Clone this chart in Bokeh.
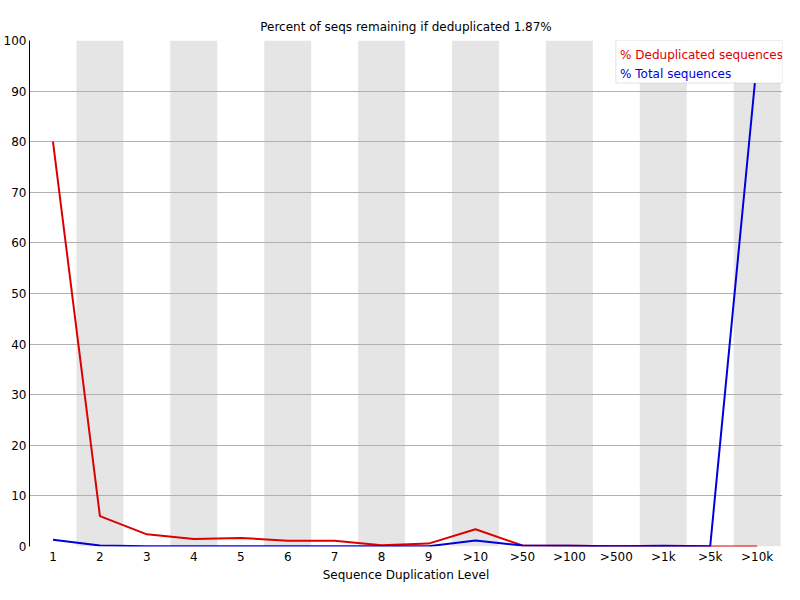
from bokeh.plotting import figure
from bokeh.models import BoxAnnotation, Label, FixedTicker, Range1d
from bokeh.embed import file_html
from bokeh.resources import INLINE

levels = ["1", "2", "3", "4", "5", "6", "7", "8", "9", ">10", ">50", ">100", ">500", ">1k", ">5k", ">10k"]
dedup_pct = [80.0, 6.0, 2.4, 1.5, 1.7, 1.15, 1.15, 0.25, 0.57, 3.4, 0.2, 0.15, 0.05, 0.1, 0.02, 0.01]
total_pct = [1.35, 0.2, 0.05, 0.05, 0.05, 0.05, 0.05, 0.05, 0.05, 1.2, 0.2, 0.15, 0.05, 0.15, 0.05, 96.3]
title_text = "Percent of seqs remaining if deduplicated 1.87%"

FONT = "DejaVu Sans"
xs = list(range(1, len(levels) + 1))

p = figure(width=784, height=584, output_backend="svg", toolbar_location=None,
           x_range=Range1d(0.5, 16.54), y_range=Range1d(0, 100),
           min_border_left=28, min_border_right=2, min_border_top=40, min_border_bottom=30)
p.title.text = title_text
p.title.align = "center"
p.title.text_font = FONT
p.title.text_font_size = "12px"
p.title.text_font_style = "normal"
p.title.text_color = "black"
p.title.standoff = 14
p.outline_line_color = None
p.background_fill_color = "white"

# alternating bands
band_x = [x for x in xs if x % 2 == 0]
p.vbar(x=band_x, width=1.0, bottom=0, top=100, fill_color="#e5e5e5", line_color=None, level="underlay")

p.xgrid.grid_line_color = None
p.ygrid.grid_line_color = "#b0b0b0"
p.ygrid.grid_line_width = 1
p.ygrid.ticker = FixedTicker(ticks=list(range(0, 101, 10)))
p.ygrid.level = "underlay"

p.line(xs, dedup_pct, line_color="#dc0000", line_width=2)
p.line(xs, total_pct, line_color="#0000dc", line_width=2)

p.xaxis.ticker = FixedTicker(ticks=xs)
p.xaxis.major_label_overrides = {x: l for x, l in zip(xs, levels)}
p.xaxis.axis_line_color = None
p.xaxis.major_tick_line_color = None
p.xaxis.minor_tick_line_color = None
p.xaxis.major_tick_out = 0
p.xaxis.major_tick_in = 0
p.xaxis.minor_tick_out = 0
p.xaxis.major_label_standoff = 3
p.xaxis.axis_label = "Sequence Duplication Level"
p.xaxis.axis_label_standoff = 1
p.xaxis.axis_label_text_font = FONT
p.xaxis.axis_label_text_font_size = "12px"
p.xaxis.axis_label_text_font_style = "normal"
p.xaxis.axis_label_text_color = "black"
p.xaxis.major_label_text_font = FONT
p.xaxis.major_label_text_font_size = "12px"
p.xaxis.major_label_text_color = "black"

p.yaxis.ticker = FixedTicker(ticks=list(range(0, 101, 10)))
p.yaxis.axis_line_color = "black"
p.yaxis.axis_line_width = 1
p.yaxis.major_tick_line_color = None
p.yaxis.minor_tick_line_color = None
p.yaxis.major_tick_out = 0
p.yaxis.major_tick_in = 0
p.yaxis.minor_tick_out = 0
p.yaxis.major_label_standoff = 3
p.yaxis.major_label_text_font = FONT
p.yaxis.major_label_text_font_size = "12px"
p.yaxis.major_label_text_color = "black"

# legend box
p.add_layout(BoxAnnotation(left=12.99, right=16.54, top=100, bottom=91.6,
                           fill_color="white", fill_alpha=1.0,
                           line_color="#a0a0a0", line_width=1))
p.add_layout(Label(x=13.08, y=97.1, text="% Deduplicated sequences", text_color="#dc0000",
                   text_font=FONT, text_font_size="12px", text_baseline="middle"))
p.add_layout(Label(x=13.08, y=93.3, text="% Total sequences", text_color="#0000dc",
                   text_font=FONT, text_font_size="12px", text_baseline="middle"))

open("out.html", "w").write(file_html(p, INLINE))
